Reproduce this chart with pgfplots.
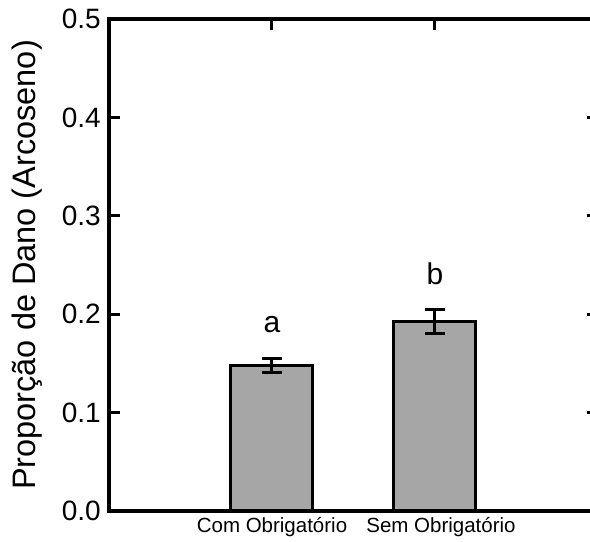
\documentclass[border=0pt]{standalone}
\usepackage{pgfplots}
\pgfplotsset{compat=1.18}
\usepackage{fontspec}
\setmainfont{Liberation Sans}
\definecolor{barfill}{RGB}{166,166,166}

\begin{document}
\begin{tikzpicture}
\begin{axis}[
  scale only axis,
  width=489pt, height=492pt,
  xmin=0, xmax=3, ymin=0, ymax=0.5,
  xtick={1,2},
  xticklabels={{Com Obrigatório},{\hspace*{12pt}Sem Obrigatório}},
  xtick pos=right, xticklabel pos=left,
  ytick={0,0.1,0.2,0.3,0.4,0.5},
  ytick pos=both, yticklabel pos=left,
  tick align=inside,
  major tick length=11pt,
  tick style={line width=3pt, black},
  axis line style={line width=3.2pt},
  /pgf/number format/assume math mode=true,
  yticklabel style={/pgf/number format/fixed,
    /pgf/number format/fixed zerofill,
    /pgf/number format/precision=1,
    font=\fontsize{28}{32}\selectfont, inner sep=0pt, xshift=-8pt},
  xticklabel style={font=\fontsize{20.5}{24}\selectfont, inner sep=0pt, yshift=-6pt},
  ylabel={Proporção de Dano (Arcoseno)},
  every axis y label/.style={at={(rel axis cs:0,0.5)}, xshift=-82pt,
    rotate=90, anchor=center, font=\fontsize{32.5}{38}\selectfont},
  clip=false,
]
\addplot[ybar, bar width=82pt, fill=barfill, draw=black, line width=3pt,
  error bars/.cd, y dir=both, y explicit,
  error bar style={line width=3pt, black},
  error mark options={rotate=90, mark size=10pt, line width=3pt, black}]
coordinates {(1,0.148) +- (0,0.0074) (2,0.1926) +- (0,0.0125)};

\node[anchor=base, font=\fontsize{30}{34}\selectfont] at (axis cs:1,0.181) {a};
\node[anchor=base, font=\fontsize{30}{34}\selectfont] at (axis cs:2,0.2297) {b};

\coordinate (O) at (rel axis cs:0,0);
\coordinate (T) at (rel axis cs:0,1);
\end{axis}
\pgfresetboundingbox
\path[use as bounding box] ([xshift=-109pt,yshift=-31pt]O) rectangle ([xshift=481pt,yshift=19pt]T);
\end{tikzpicture}
\end{document}
